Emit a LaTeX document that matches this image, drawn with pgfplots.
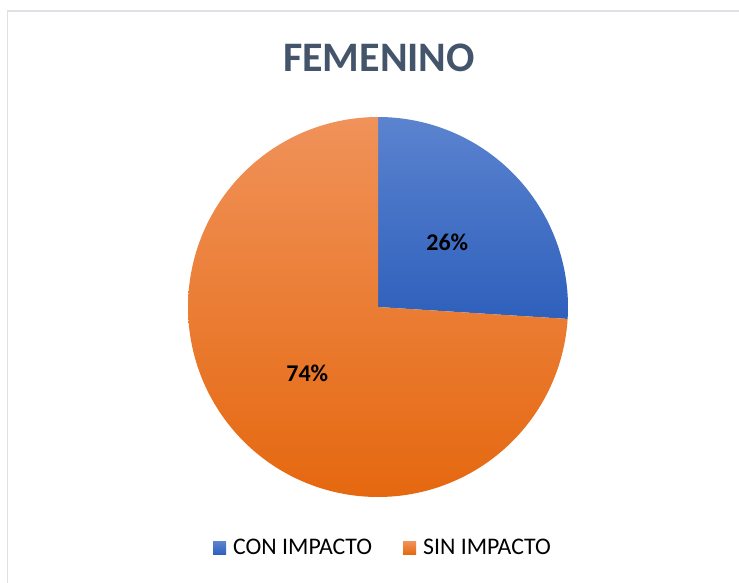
\documentclass[border=0pt]{standalone}
\usepackage{pgfplots}
\pgfplotsset{compat=1.18}
\usepackage{pgfplotstable}
\usepackage{fontspec}
\setmainfont{Carlito}
\definecolor{titlecol}{HTML}{44546A}
\definecolor{blueTop}{HTML}{5B83CF}
\definecolor{blueBot}{HTML}{2E60BC}
\definecolor{blueMid}{HTML}{4472C4}
\definecolor{orTop}{HTML}{F0925A}
\definecolor{orBot}{HTML}{E5680F}
\definecolor{orMid}{HTML}{ED7D31}
\definecolor{bordercol}{HTML}{DDE1E6}

\pgfplotstableread{
label value
CON 26
SIN 74
}\piedata

\begin{document}
\begin{tikzpicture}
\pgfplotstablegetelem{0}{value}\of\piedata
\let\va\pgfplotsretval
\pgfmathsetmacro\angA{90-3.6*\va}
\pgfmathsetmacro\angB{\angA+360}
\pgfmathsetmacro\midA{(90+\angA)/2}
\pgfmathsetmacro\midB{(90+\angB)/2}
\begin{axis}[
  width=739pt, height=582pt, scale only axis,
  xmin=0, xmax=739, ymin=0, ymax=582,
  hide axis, clip=true,
  legend columns=2,
  legend style={at={(axis cs:383,34)}, anchor=center, draw=none, fill=none,
    font=\fontsize{23.8}{26}\selectfont,
    /tikz/every odd column/.append style={column sep=5pt},
    /tikz/every even column/.append style={column sep=29pt},
    cells={anchor=west}},
]
\draw[bordercol, line width=1.6pt] (axis cs:7.5,570.8) rectangle (axis cs:760,-20);
\addplot[draw=none, top color=blueTop, bottom color=blueBot, domain=\angA:90, samples=120, variable=\t,
  legend image code/.code={\fill[blueMid] (0pt,-6.5pt) rectangle (13pt,6.5pt);}]
  ({378+190*cos(t)},{275+190*sin(t)}) -- (axis cs:378,275) -- cycle;
\addlegendentry{CON IMPACTO}
\addplot[draw=none, top color=orTop, bottom color=orBot, domain=90:\angB, samples=300, variable=\t,
  legend image code/.code={\fill[orMid] (0pt,-6.5pt) rectangle (13pt,6.5pt);}]
  ({378+190*cos(t)},{275+190*sin(t)}) -- (axis cs:378,275) -- cycle;
\addlegendentry{SIN IMPACTO}
\node[font=\fontsize{24}{28}\selectfont\bfseries] at (axis cs:{378+95*cos(\midA)},{275+95*sin(\midA)}) {26\%};
\node[font=\fontsize{24}{28}\selectfont\bfseries] at (axis cs:{378+97*cos(\midB)},{275+97*sin(\midB)}) {74\%};
\node[font=\fontsize{42}{46}\selectfont\bfseries, text=titlecol] at (axis cs:379,524) {FEMENINO};
\end{axis}
\pgfresetboundingbox
\useasboundingbox (0,0) rectangle (739pt,582pt);
\end{tikzpicture}
\end{document}
